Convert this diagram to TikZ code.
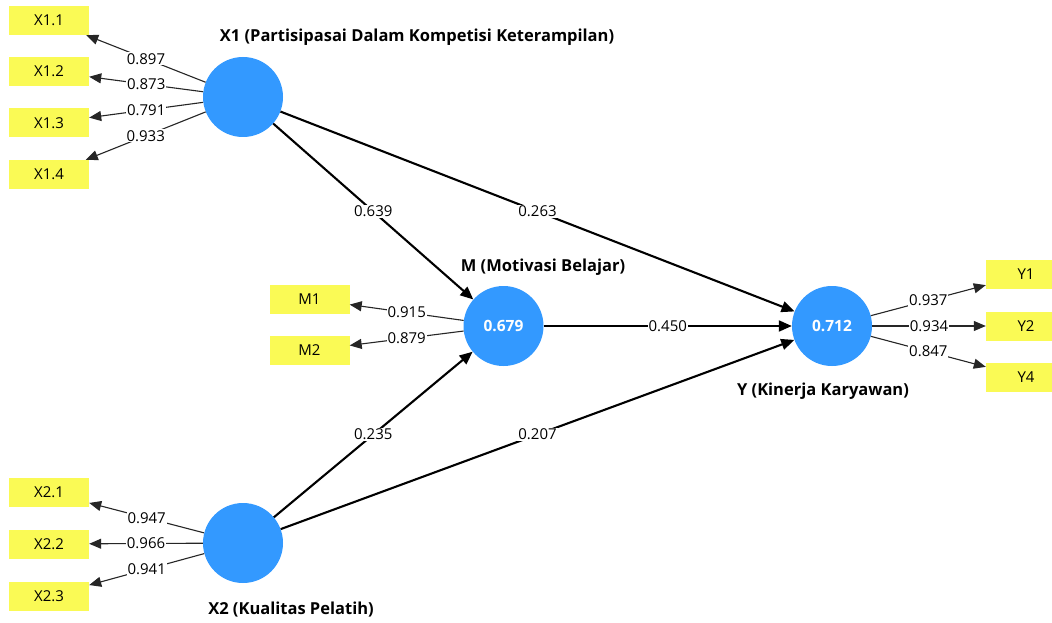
\documentclass[tikz,border=0pt]{standalone}
\usepackage{fontspec}
\setmainfont{Open Sans}
\usetikzlibrary{arrows.meta}
\definecolor{lv}{RGB}{51,153,255}
\definecolor{mv}{RGB}{250,250,85}
\tikzset{
  latent/.style={circle,fill=lv,draw=none,minimum size=80pt,inner sep=0pt,text=white,font=\fontsize{15.5}{17}\selectfont\bfseries},
  manifest/.style={rectangle,fill=mv,draw=none,minimum width=80pt,minimum height=29pt,inner sep=0pt,font=\fontsize{15}{16}\selectfont},
  title/.style={font=\fontsize{16.5}{18}\selectfont\bfseries},
  load/.style={draw=black!85,line width=1.1pt,-{Triangle[length=12pt,width=10pt]}},
  path/.style={draw=black,line width=2.1pt,-{Triangle[length=13pt,width=11pt]}},
  lbl/.style={fill=white,inner sep=1pt,font=\fontsize{15}{16}\selectfont},
}
\begin{document}
\begin{tikzpicture}[x=1pt,y=-1pt]
\useasboundingbox (0,0) rectangle (1052,623);
\fill[white] (0,0) rectangle (1052,623);
% latent
\node[latent] (X1) at (243,97) {};
\node[latent] (X2) at (243,543) {};
\node[latent] (M) at (503.5,326) {0.679};
\node[latent] (Y) at (832,326) {0.712};
% titles
\node[title] (tX1) at (417,37) {X1 (Partisipasai Dalam Kompetisi Keterampilan)};
\node[title] (tM) at (543,267) {M (Motivasi Belajar)};
\node[title] (tY) at (823,391) {Y (Kinerja Karyawan)};
\node[title] (tX2) at (291,610) {X2 (Kualitas Pelatih)};
% manifest
\node[manifest] (x11) at (49,20.5) {X1.1};
\node[manifest] (x12) at (49,71.5) {X1.2};
\node[manifest] (x13) at (49,123) {X1.3};
\node[manifest] (x14) at (49,174.5) {X1.4};
\node[manifest] (m1) at (309.5,299) {M1};
\node[manifest] (m2) at (309.5,350.5) {M2};
\node[manifest] (y1) at (1026,274.5) {Y1};
\node[manifest] (y2) at (1026,326) {Y2};
\node[manifest] (y4) at (1026,377.5) {Y4};
\node[manifest] (x21) at (49,492.5) {X2.1};
\node[manifest] (x22) at (49,544) {X2.2};
\node[manifest] (x23) at (49,596) {X2.3};
% loadings
\draw[load] (X1) -- node[lbl]{0.897} (x11);
\draw[load] (X1) -- node[lbl]{0.873} (x12);
\draw[load] (X1) -- node[lbl]{0.791} (x13);
\draw[load] (X1) -- node[lbl]{0.933} (x14);
\draw[load] (M) -- node[lbl]{0.915} (m1);
\draw[load] (M) -- node[lbl]{0.879} (m2);
\draw[load] (Y) -- node[lbl]{0.937} (y1);
\draw[load] (Y) -- node[lbl]{0.934} (y2);
\draw[load] (Y) -- node[lbl]{0.847} (y4);
\draw[load] (X2) -- node[lbl]{0.947} (x21);
\draw[load] (X2) -- node[lbl]{0.966} (x22);
\draw[load] (X2) -- node[lbl]{0.941} (x23);
% structural
\draw[path] (X1) -- node[lbl]{0.639} (M);
\draw[path] (X1) -- node[lbl]{0.263} (Y);
\draw[path] (M) -- node[lbl]{0.450} (Y);
\draw[path] (X2) -- node[lbl]{0.235} (M);
\draw[path] (X2) -- node[lbl]{0.207} (Y);
\end{tikzpicture}
\end{document}
